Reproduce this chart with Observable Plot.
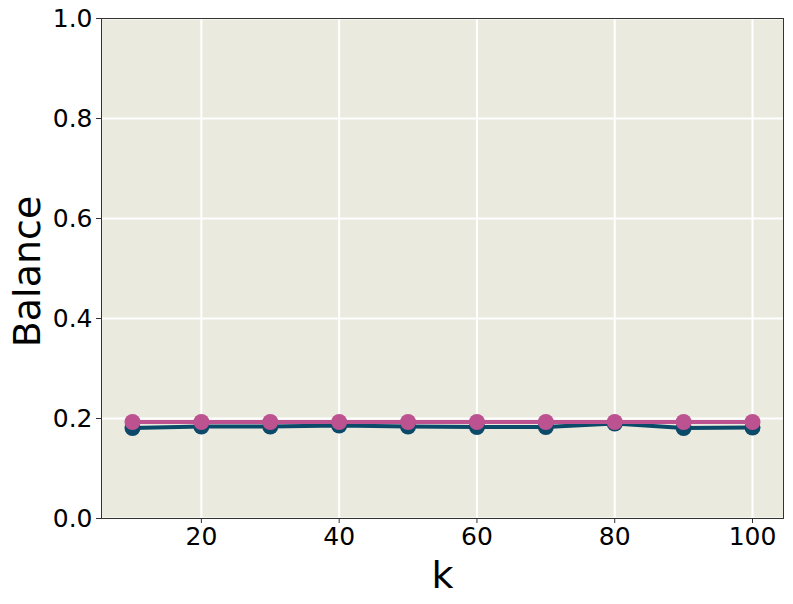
<!DOCTYPE html>
<html>
<head>
<meta charset="utf-8">
<script src="https://cdn.jsdelivr.net/npm/d3@7"></script>
<script src="https://cdn.jsdelivr.net/npm/@observablehq/plot@0.6"></script>
<style>
  html, body { margin: 0; padding: 0; background: #ffffff; }
  #chart svg { display: block; }
</style>
</head>
<body>
<div id="chart"></div>
<script>
const kValues = [10, 20, 30, 40, 50, 60, 70, 80, 90, 100];
const seriesDark = [0.181, 0.184, 0.184, 0.186, 0.184, 0.183, 0.183, 0.190, 0.181, 0.182];
const seriesPink = [0.193, 0.193, 0.193, 0.193, 0.193, 0.193, 0.193, 0.193, 0.193, 0.193];
const xTicks = [20, 40, 60, 80, 100];
const yTicks = [0.0, 0.2, 0.4, 0.6, 0.8, 1.0];

const darkData = kValues.map((k, i) => ({k, v: seriesDark[i]}));
const pinkData = kValues.map((k, i) => ({k, v: seriesPink[i]}));

const darkColor = "#0b4a68";
const pinkColor = "#bd5290";

const chart = Plot.plot({
  width: 793,
  height: 604,
  marginLeft: 101,
  marginRight: 10,
  marginTop: 18,
  marginBottom: 86,
  style: { fontFamily: "DejaVu Sans", fontSize: "25px", background: "#ffffff", color: "#000" },
  x: { domain: [5.5, 104.5] },
  y: { domain: [0, 1] },
  marks: [
    Plot.frame({ fill: "#eaeadf", stroke: null }),
    Plot.gridX(xTicks, { stroke: "#ffffff", strokeOpacity: 1, strokeWidth: 2 }),
    Plot.gridY(yTicks, { stroke: "#ffffff", strokeOpacity: 1, strokeWidth: 2 }),
    Plot.frame({ stroke: "#333333", strokeWidth: 1 }),
    Plot.axisX(xTicks, { tickSize: 5, tickPadding: 4, fontSize: 25, label: null, stroke: "#333", fill: "#000" }),
    Plot.axisY(yTicks, { tickSize: 5, tickPadding: 4, fontSize: 25, label: null, tickFormat: d3.format(".1f"), stroke: "#333", fill: "#000" }),
    Plot.text(["Balance"], { frameAnchor: "left", textAnchor: "middle", lineAnchor: "bottom", rotate: -90, dx: -62, dy: 3, fontSize: 38, fill: "#000" }),
    Plot.text(["k"], { frameAnchor: "bottom", textAnchor: "middle", lineAnchor: "bottom", dy: 69, fontSize: 38, fill: "#000" }),
    Plot.line(darkData, { x: "k", y: "v", stroke: darkColor, strokeWidth: 4 }),
    Plot.dot(darkData, { x: "k", y: "v", r: 8, fill: darkColor, stroke: null }),
    Plot.line(pinkData, { x: "k", y: "v", stroke: pinkColor, strokeWidth: 4 }),
    Plot.dot(pinkData, { x: "k", y: "v", r: 8, fill: pinkColor, stroke: null })
  ]
});
document.getElementById("chart").appendChild(chart);
</script>
</body>
</html>
